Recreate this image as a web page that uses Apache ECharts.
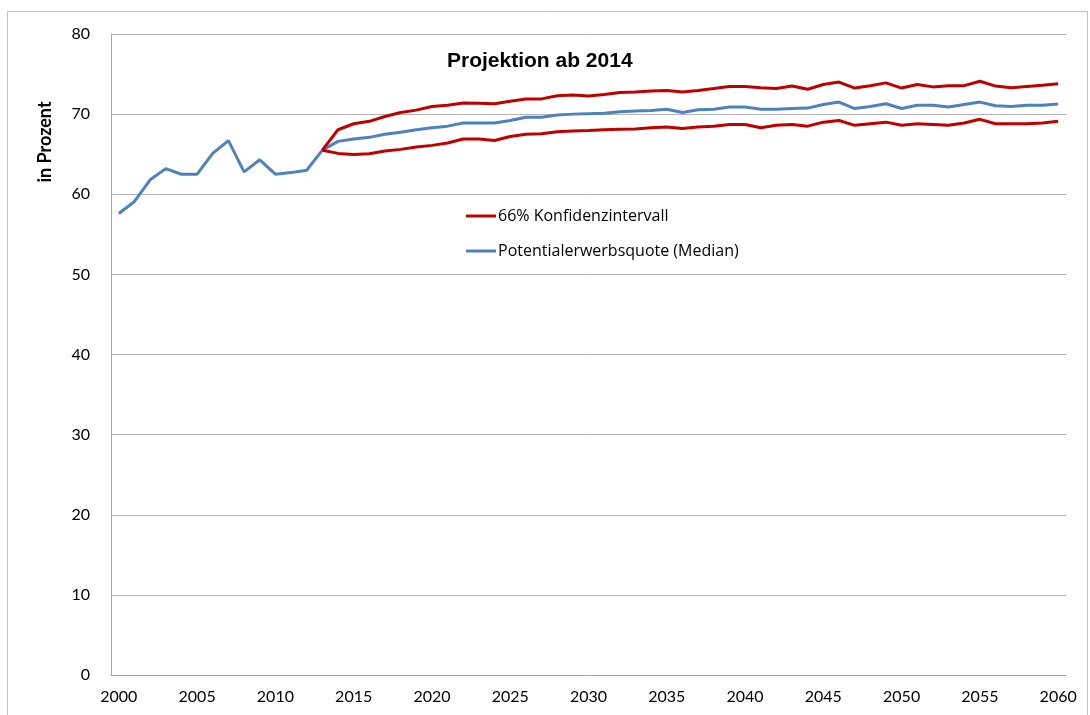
<!DOCTYPE html>
<html>
<head>
<meta charset="utf-8">
<script src="https://cdn.jsdelivr.net/npm/echarts@6/dist/echarts.min.js"></script>
<style>
html,body{margin:0;padding:0;background:#fff;}
#c{width:1090px;height:715px;}
</style>
</head>
<body>
<div id="c"></div>
<script>
const years = [];
for (let y = 2000; y <= 2060; y++) years.push(String(y));

const median = [57.6,59.1,61.8,63.2,62.5,62.5,65.1,66.7,62.8,64.3,62.5,62.7,63.0,65.5,
66.6,66.9,67.1,67.5,67.75,68.05,68.3,68.5,68.9,68.9,68.9,69.2,69.6,69.6,69.9,70.0,70.05,70.1,70.3,70.4,70.45,70.6,70.2,70.55,70.6,70.9,70.9,70.6,70.6,70.7,70.75,71.2,71.5,70.7,70.95,71.3,70.7,71.1,71.1,70.9,71.2,71.5,71.05,70.95,71.1,71.1,71.25];

const upper = [null,null,null,null,null,null,null,null,null,null,null,null,null,65.5,
68.05,68.8,69.1,69.7,70.2,70.5,70.96,71.1,71.4,71.35,71.3,71.6,71.9,71.9,72.3,72.4,72.25,72.45,72.7,72.75,72.9,72.96,72.75,72.96,73.2,73.45,73.45,73.3,73.2,73.5,73.1,73.7,74.0,73.25,73.55,73.9,73.25,73.7,73.4,73.55,73.55,74.1,73.5,73.3,73.45,73.6,73.8];

const lower = [null,null,null,null,null,null,null,null,null,null,null,null,null,65.5,
65.1,64.97,65.05,65.4,65.6,65.9,66.1,66.4,66.9,66.9,66.7,67.2,67.5,67.55,67.8,67.9,67.95,68.05,68.1,68.15,68.3,68.4,68.2,68.4,68.5,68.7,68.7,68.3,68.6,68.7,68.5,69.0,69.2,68.6,68.8,69.0,68.6,68.8,68.7,68.6,68.9,69.35,68.8,68.8,68.8,68.9,69.1];

const yTicks = [0,10,20,30,40,50,60,70,80];

const chart = echarts.init(document.getElementById('c'), null, {renderer:'canvas'});
const RED = '#C00000', BLUE = '#4F81BD';
const FONT = 'Lato, "Open Sans", sans-serif';
chart.setOption({
  animation:false,
  backgroundColor:'#fff',
  textStyle:{fontFamily:FONT},
  grid:{left:111, top:34, right:24, bottom:40, containLabel:false},
  graphic:[
    {type:'rect', shape:{x:7.5,y:11.5,width:1080,height:710}, style:{fill:'none',stroke:'#bfbfbf',lineWidth:1}, silent:true},
    {type:'text', left:447, top:51, style:{text:'Projektion ab 2014', font:'bold 21px "Liberation Sans", Arial, sans-serif', fill:'#000'}},
    {type:'text', x:45, y:142, rotation:Math.PI/2, style:{text:'in Prozent', font:'bold 18px '+FONT, fill:'#000', align:'center', verticalAlign:'middle'}}
  ],
  legend:{
    orient:'vertical', left:466, top:208, itemGap:19, padding:0,
    itemWidth:30, itemHeight:3, icon:'rect',
    textStyle:{fontSize:16, color:'#000', fontFamily:'"Open Sans", sans-serif', padding:[0,0,0,-3]},
    data:['66% Konfidenzintervall','Potentialerwerbsquote (Median)']
  },
  xAxis:{
    type:'category', data:years, boundaryGap:true,
    axisLine:{show:true, lineStyle:{color:'#a6a6a6', width:1}},
    axisTick:{show:false},
    axisLabel:{interval:4, fontSize:16, color:'#000', margin:14, fontFamily:FONT}
  },
  yAxis:{
    type:'value', min:yTicks[0], max:yTicks[yTicks.length-1], interval:10,
    axisLine:{show:true, lineStyle:{color:'#a6a6a6', width:1}},
    axisTick:{show:false},
    axisLabel:{fontSize:16, color:'#000', margin:21, fontFamily:FONT},
    splitLine:{show:true, lineStyle:{color:'#b3b3b3', width:1}}
  },
  series:[
    {name:'Potentialerwerbsquote (Median)', type:'line', data:median, symbol:'none', lineStyle:{color:BLUE,width:3}, itemStyle:{color:BLUE}, z:2},
    {name:'66% Konfidenzintervall', type:'line', data:upper, symbol:'none', lineStyle:{color:RED,width:3}, itemStyle:{color:RED}, z:3},
    {name:'66% Konfidenzintervall', type:'line', data:lower, symbol:'none', lineStyle:{color:RED,width:3}, itemStyle:{color:RED}, z:3}
  ]
});
</script>
</body>
</html>
